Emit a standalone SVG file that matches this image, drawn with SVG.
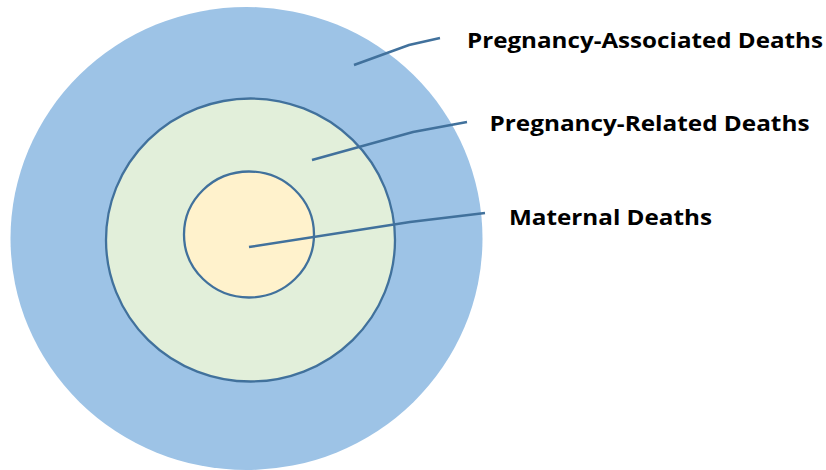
<svg xmlns="http://www.w3.org/2000/svg" width="826" height="470" viewBox="0 0 826 470">
<style>
.ring{stroke:#41719C;stroke-width:2.3}
.lead{fill:none;stroke:#41719C;stroke-width:2.5}
.lbl{font-family:"Open Sans","Liberation Sans",sans-serif;font-weight:bold;font-size:22px;fill:#000}
</style>
<rect width="826" height="470" fill="#fff"/>
<g id="outer"><ellipse cx="246.5" cy="238.5" rx="236" ry="231.5" fill="#9DC3E6"/></g>
<g id="middle"><ellipse class="ring" cx="250.5" cy="240" rx="144.5" ry="141.5" fill="#E2EFDA"/></g>
<g id="inner"><ellipse class="ring" cx="249" cy="234.5" rx="65" ry="63" fill="#FFF2CC"/></g>
<g id="connectors">
<path class="lead" d="M354,65 L409,45 L440,38"/>
<path class="lead" d="M312,160 L413,132 L467,122"/>
<path class="lead" d="M249,247 L410,222 L485,213"/>
</g>
<g id="label-associated"><text class="lbl" x="467" y="48" textLength="356" lengthAdjust="spacingAndGlyphs">Pregnancy-Associated Deaths</text></g>
<g id="label-related"><text class="lbl" x="489.5" y="130.5" textLength="320" lengthAdjust="spacingAndGlyphs">Pregnancy-Related Deaths</text></g>
<g id="label-maternal"><text class="lbl" x="509" y="224.5" textLength="203" lengthAdjust="spacingAndGlyphs">Maternal Deaths</text></g>
</svg>
